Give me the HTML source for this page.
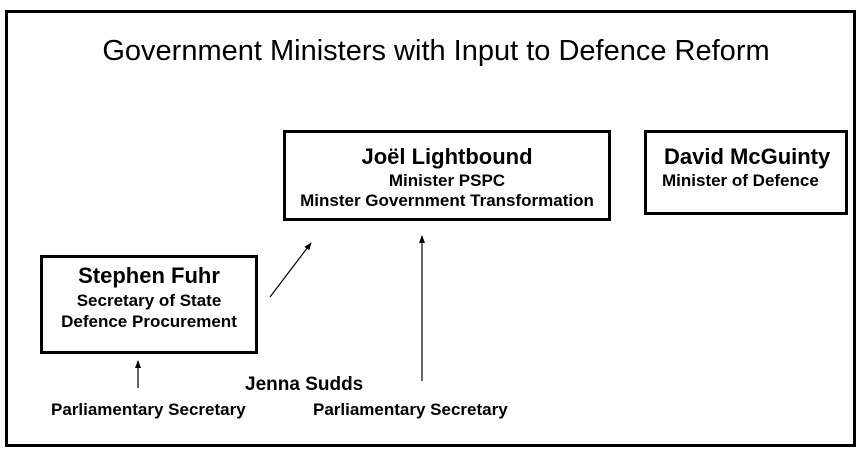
<!DOCTYPE html>
<html><head><style>
body{margin:0;width:864px;height:456px;background:#fff;position:relative;overflow:hidden;font-family:"Liberation Sans",Arial,sans-serif;}
.a{position:absolute;}
.box{position:absolute;border:3px solid #000;box-sizing:border-box;color:#000;}
.l{position:absolute;font-weight:bold;white-space:nowrap;line-height:1;}
</style></head><body>
<div class="a" style="left:5px;top:10px;width:851px;height:437px;border:3px solid #000;box-sizing:border-box;"></div>
<div class="a" style="left:0;width:872px;top:35px;text-align:center;font-size:29px;line-height:32px;white-space:nowrap;">Government Ministers with Input to Defence Reform</div>
<div class="box" style="left:283px;top:130px;width:328px;height:91px;"></div>
<div class="box" style="left:644px;top:130px;width:204px;height:85px;"></div>
<div class="box" style="left:40px;top:255px;width:218px;height:99px;"></div>
<div class="l" style="left:283px;width:328px;text-align:center;top:146px;font-size:22px;">Joël Lightbound</div>
<div class="l" style="left:283px;width:328px;text-align:center;top:172px;font-size:17px;">Minister PSPC</div>
<div class="l" style="left:283px;width:328px;text-align:center;top:192px;font-size:17px;">Minster Government Transformation</div>
<div class="l" style="left:664px;top:146px;font-size:22px;">David McGuinty</div>
<div class="l" style="left:662px;top:172px;font-size:17px;">Minister of Defence</div>
<div class="l" style="left:40px;width:218px;text-align:center;top:265px;font-size:22px;">Stephen Fuhr</div>
<div class="l" style="left:40px;width:218px;text-align:center;top:292px;font-size:17px;">Secretary of State</div>
<div class="l" style="left:40px;width:218px;text-align:center;top:313px;font-size:17px;">Defence Procurement</div>
<div class="l" style="left:245px;top:375px;font-size:19px;">Jenna Sudds</div>
<div class="l" style="left:51px;top:401px;font-size:17px;">Parliamentary Secretary</div>
<div class="l" style="left:313px;top:401px;font-size:17px;">Parliamentary Secretary</div>
<svg class="a" style="left:0;top:0" width="864" height="456">
<defs><marker id="m" markerWidth="8" markerHeight="8" refX="7" refY="4" orient="auto" markerUnits="userSpaceOnUse"><path d="M0,1 L8,4 L0,7 z" fill="#000"/></marker></defs>
<line x1="270" y1="297" x2="311" y2="243" stroke="#000" stroke-width="1.2" marker-end="url(#m)"/>
<line x1="138" y1="388" x2="138" y2="361" stroke="#000" stroke-width="1.2" marker-end="url(#m)"/>
<line x1="422" y1="381" x2="422" y2="236" stroke="#000" stroke-width="1.2" marker-end="url(#m)"/>
</svg>
</body></html>
